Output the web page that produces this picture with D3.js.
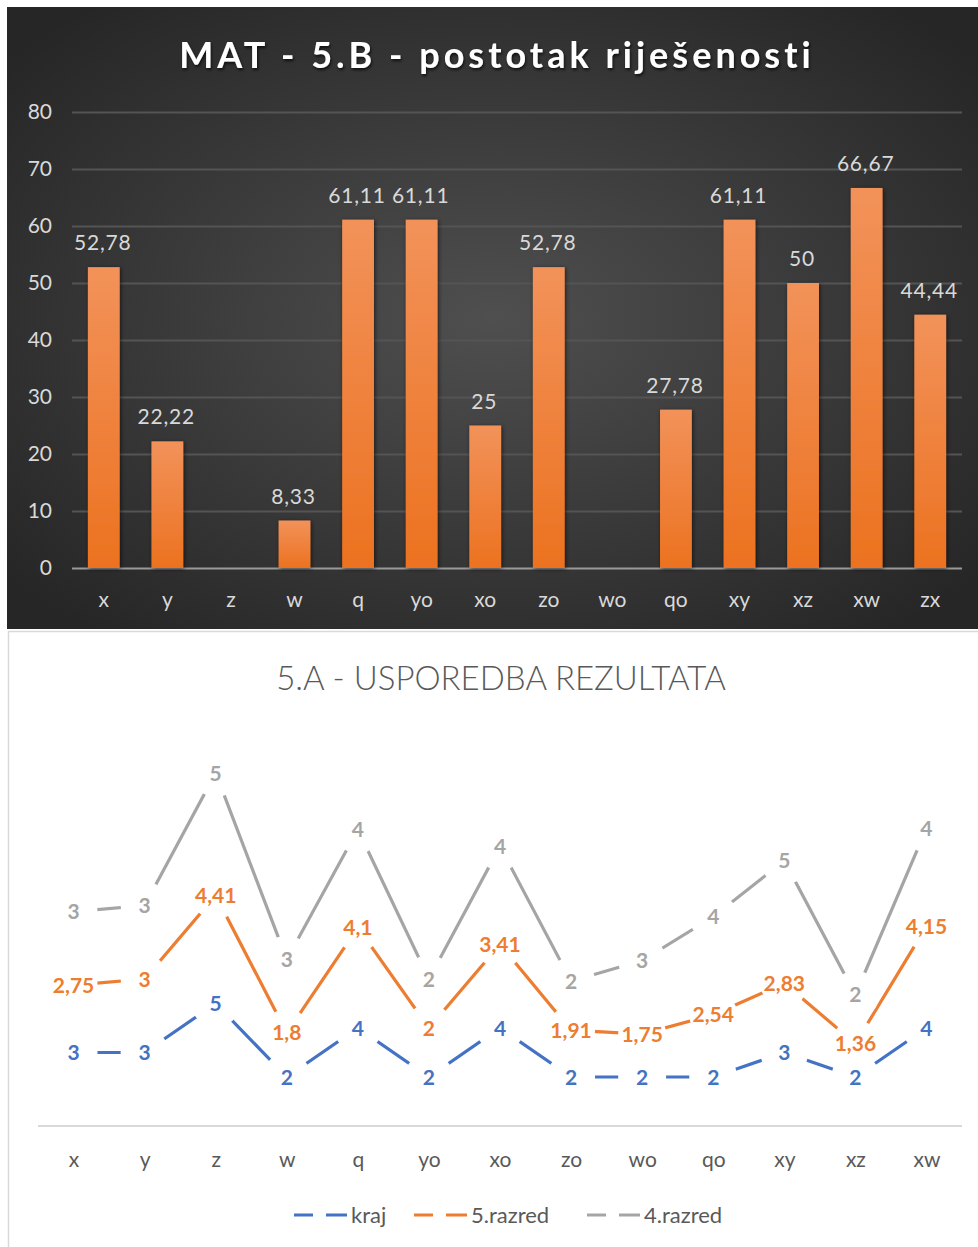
<!DOCTYPE html>
<html>
<head>
<meta charset="utf-8">
<script src="https://cdn.jsdelivr.net/npm/d3@7"></script>
<style>
  body { margin: 0; background: #fff; }
  text { font-family: Lato, "Open Sans", sans-serif; }
</style>
</head>
<body>
<div class="chart"></div>
<script>
const width = 978;
const height = 1247;

// DATA //
// top chart - bars
const barCats = ["x","y","z","w","q","yo","xo","zo","wo","qo","xy","xz","xw","zx"];
const barValues = [52.78,22.22,null,8.33,61.11,61.11,25,52.78,null,27.78,61.11,50,66.67,44.44];
const barTicks = [0,10,20,30,40,50,60,70,80];

// bottom chart - stacked lines
const lineCats = ["x","y","z","w","q","yo","xo","zo","wo","qo","xy","xz","xw"];
const kraj     = [3,3,5,2,4,2,4,2,2,2,3,2,4];
const razred5  = [2.75,3,4.41,1.8,4.1,2,3.41,1.91,1.75,2.54,2.83,1.36,4.15];
const razred4  = [3,3,5,3,4,2,4,2,3,4,5,2,4];
const seriesNames = ["kraj","5.razred","4.razred"];
const seriesColors = ["#4472C4","#ED7D31","#A5A5A5"];

const hr = d3.formatLocale({decimal: ",", thousands: ".", grouping: [3], currency: ["", ""]});
const fmt = hr.format(".2~f");

const svg = d3.select(".chart")
    .append("svg")
    .attr("width", width)
    .attr("height", height)
    .attr("viewBox", [0,0,width,height]);

const defs = svg.append("defs");

// background gradient for the dark chart
const bg = defs.append("radialGradient").attr("id","bg")
    .attr("cx","50%").attr("cy","50%").attr("r","65%");
bg.append("stop").attr("offset","0%").attr("stop-color","#4f4f4f");
bg.append("stop").attr("offset","100%").attr("stop-color","#262626");

const barGrad = defs.append("linearGradient").attr("id","barGrad")
    .attr("x1",0).attr("y1",0).attr("x2",0).attr("y2",1);
barGrad.append("stop").attr("offset","0%").attr("stop-color","#F2925A");
barGrad.append("stop").attr("offset","100%").attr("stop-color","#EC7220");

const shadow = defs.append("filter").attr("id","shadow")
    .attr("x","-30%").attr("y","-30%").attr("width","160%").attr("height","160%");
shadow.append("feDropShadow").attr("dx",1).attr("dy",1).attr("stdDeviation",2)
    .attr("flood-color","#000").attr("flood-opacity",0.6);

const tshadow = defs.append("filter").attr("id","tshadow");
tshadow.append("feDropShadow").attr("dx",1).attr("dy",2).attr("stdDeviation",1.5)
    .attr("flood-color","#000").attr("flood-opacity",0.7);

                                        // TOP CHART //
const barChart = svg.append("g");
barChart.append("rect")
    .attr("x",7).attr("y",7).attr("width",width-7).attr("height",622)
    .attr("fill","url(#bg)");

barChart.append("text")
    .attr("x",497).attr("y",68)
    .attr("text-anchor","middle")
    .attr("fill","#fff")
    .attr("font-size",36)
    .attr("font-weight",700)
    .attr("letter-spacing",4)
    .attr("filter","url(#tshadow)")
    .text("MAT - 5.B - postotak riješenosti");

const xBar = d3.scaleBand()
    .domain(barCats)
    .range([72, 962])
    .paddingInner(0.5)
    .paddingOuter(0.25);

const yBar = d3.scaleLinear()
    .domain([0, 80])
    .range([568, 112]);

// gridlines + tick labels
const yAxisBar = barChart.append("g")
    .attr("transform","translate(72,0)")
    .call(d3.axisLeft(yBar).tickValues(barTicks).tickSize(-(962-72)).tickPadding(20));
yAxisBar.select(".domain").remove();
yAxisBar.selectAll(".tick line")
    .attr("stroke", d => d === 0 ? "#9a9a9a" : "#545454")
    .attr("stroke-width", 2);
yAxisBar.selectAll(".tick text")
    .attr("fill","#d9d9d9")
    .attr("font-size",21)
    .attr("font-family","Lato, sans-serif");

const xAxisBar = barChart.append("g")
    .attr("transform","translate(0,568)")
    .call(d3.axisBottom(xBar).tickSize(0).tickPadding(24));
xAxisBar.select(".domain").remove();
xAxisBar.selectAll(".tick text")
    .attr("fill","#d9d9d9")
    .attr("font-size",21)
    .attr("font-family","Lato, sans-serif");

const barData = barCats.map((c,i) => ({cat: c, value: barValues[i]}));

barChart.append("g")
    .selectAll("rect")
    .data(barData.filter(d => d.value != null))
    .join("rect")
    .attr("x", d => xBar(d.cat))
    .attr("y", d => yBar(d.value))
    .attr("width", xBar.bandwidth())
    .attr("height", d => yBar(0) - yBar(d.value))
    .attr("fill","url(#barGrad)")
    .attr("filter","url(#shadow)");

barChart.append("g")
    .selectAll("text")
    .data(barData.filter(d => d.value != null))
    .join("text")
    .attr("x", d => xBar(d.cat) + xBar.bandwidth()/2 - 1)
    .attr("y", d => yBar(d.value) - 17)
    .attr("text-anchor","middle")
    .attr("fill","#d9d9d9")
    .attr("font-size",21)
    .attr("letter-spacing",0.8)
    .text(d => fmt(d.value));

                                        // BOTTOM CHART //
const lineChart = svg.append("g");
lineChart.append("rect")
    .attr("x",8.5).attr("y",631.5).attr("width",width).attr("height",height)
    .attr("fill","#fff")
    .attr("stroke","#d9d9d9")
    .attr("stroke-width",1.5);

lineChart.append("text")
    .attr("x",501).attr("y",690)
    .attr("text-anchor","middle")
    .attr("fill","#595959")
    .attr("font-size",33)
    .attr("font-weight",300)
    .text("5.A - USPOREDBA REZULTATA");

const xLine = d3.scalePoint()
    .domain(lineCats)
    .range([38, 962])
    .padding(0.5);

const yLine = d3.scaleLinear()
    .domain([0, 16])
    .range([1126, 734]);

// axis line and category labels
const xAxisLine = lineChart.append("g")
    .attr("transform","translate(0,1126)")
    .call(d3.axisBottom(xLine).tickSize(0).tickPadding(26));
xAxisLine.select(".domain")
    .attr("d","M38,0H962")
    .attr("stroke","#d9d9d9")
    .attr("stroke-width",2);
xAxisLine.selectAll(".tick text")
    .attr("fill","#595959")
    .attr("font-size",21)
    .attr("font-family","Lato, sans-serif");

const table = lineCats.map((c,i) => ({cat: c, kraj: kraj[i], "5.razred": razred5[i], "4.razred": razred4[i]}));
const stacked = d3.stack().keys(seriesNames)(table);

const line = d3.line()
    .x(d => xLine(d.data.cat))
    .y(d => yLine(d[1]));

lineChart.append("g")
    .selectAll("path")
    .data(stacked)
    .join("path")
    .attr("d", line)
    .attr("fill","none")
    .attr("stroke", (d,i) => seriesColors[i])
    .attr("stroke-width",3.2);

// white markers that break the lines around the labels
const points = stacked.flatMap((s,i) => s.map(d => ({
    cat: d.data.cat, top: d[1], value: d.data[s.key], color: seriesColors[i]})));

lineChart.append("g")
    .selectAll("circle")
    .data(points)
    .join("circle")
    .attr("cx", d => xLine(d.cat))
    .attr("cy", d => yLine(d.top))
    .attr("r", 24)
    .attr("fill","#fff");

lineChart.append("g")
    .selectAll("text")
    .data(points)
    .join("text")
    .attr("x", d => xLine(d.cat))
    .attr("y", d => yLine(d.top))
    .attr("dy","0.36em")
    .attr("text-anchor","middle")
    .attr("fill", d => d.color)
    .attr("font-size",21)
    .attr("font-weight",700)
    .text(d => fmt(d.value));

// legend
const legendX = [294, 414, 587];
const legend = lineChart.append("g")
    .selectAll("g")
    .data(seriesNames)
    .join("g")
    .attr("transform", (d,i) => `translate(${legendX[i]},1215)`);
legend.append("line")
    .attr("x1",0).attr("x2",53).attr("y1",0).attr("y2",0)
    .attr("stroke", (d,i) => seriesColors[i])
    .attr("stroke-width",3.2)
    .attr("stroke-dasharray","19 13 21");
legend.append("text")
    .attr("x",57)
    .attr("dy","0.35em")
    .attr("fill","#595959")
    .attr("font-size",22)
    .text(d => d);
</script>
</body>
</html>
